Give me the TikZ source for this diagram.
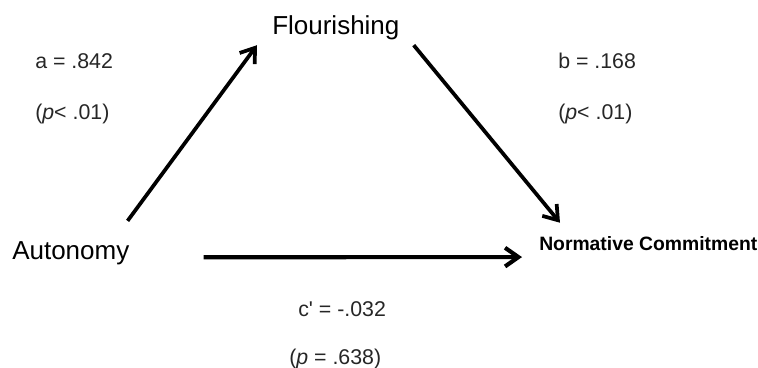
\documentclass[tikz,border=0pt]{standalone}
\usepackage{fontspec}
\setmainfont{Liberation Sans}
\usetikzlibrary{positioning, calc, arrows.meta}

\begin{document}
\begin{tikzpicture}[
            x=0.75pt, y=-0.75pt,
            var/.style={inner sep=0pt, anchor=base west, font=\fontsize{19.5}{23}\selectfont},
            outcome/.style={var, font=\fontsize{14.5}{17}\selectfont\bfseries},
            coef/.style={inner sep=0pt, anchor=base west, text=black!85, font=\fontsize{16}{19}\selectfont},
            effect/.style={-{Straight Barb[length=10pt, width=14pt]}, line width=2.8pt, black}
        ]
            \useasboundingbox (0,0) rectangle (758,368);

            % --- 1. variables ---
            \node[var] (flour) at (272,34) {Flourishing};
            \node[var] (auto) at (12,259) {Autonomy};
            \node[outcome] (norm) at (539,250) {Normative Commitment};

            % --- 2. path coefficients ---
            \node[coef] (ca) at (35,68) {a = .842};
            \node[coef, below=38.25pt of ca.base west, anchor=base west] (pa) {(\textit{p}< .01)};
            \node[coef] (cb) at (558,68) {b = .168};
            \node[coef, below=38.25pt of cb.base west, anchor=base west] (pb) {(\textit{p}< .01)};
            \node[coef] (cc) at (298,316) {c\textquotesingle{} = -.032};
            \node[coef, below=36pt of cc.base west, anchor=base west, xshift=-6.75pt] (pc) {(\textit{p} = .638)};

            % --- 3. paths ---
            \draw[effect] ($(auto.north east)+(-2,-20)$) -- ($(flour.south west)+(-15,5.5)$);
            \draw[effect] ($(flour.south east)+(14,5.5)$) -- ($(norm.north west)+(21,-13)$);
            \draw[effect, line width=3.1pt] ($(auto.east)+(74,4.5)$) -- ($(norm.west)+(-17,14)$);

        \end{tikzpicture}
\end{document}
